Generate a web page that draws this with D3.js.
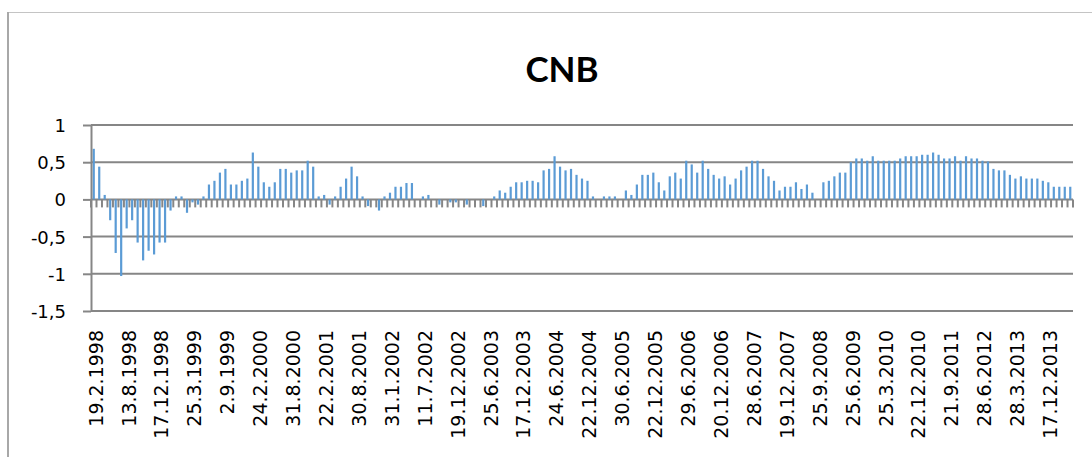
<!DOCTYPE html>

<head>
    <meta charset="utf-8">
    <title>CNB</title>
    <script type="text/javascript" src="https://d3js.org/d3.v7.min.js"></script>
    <style>
        body { margin: 0; background: #fff; }
        .lbl { font-family: "DejaVu Sans", sans-serif; }
        .title { font-family: Lato, "Open Sans", sans-serif; font-weight: bold; }
    </style>
</head>

<body>
    <div id="container"></div>
    <script>
        //------------------------1. DATA------------------------//
        // one value per CNB board meeting (179 categories), only every 6th labelled
        var values = [
            0.68, 0.44, 0.06, -0.28, -0.72, -1.03, -0.39, -0.28, -0.58, -0.82,
            -0.69, -0.74, -0.58, -0.58, -0.15, 0.04, 0.04, -0.18, -0.04, -0.07,
            0.04, 0.20, 0.25, 0.36, 0.41, 0.20, 0.20, 0.25, 0.28, 0.63,
            0.44, 0.23, 0.17, 0.23, 0.41, 0.41, 0.36, 0.39, 0.39, 0.52,
            0.44, 0.04, 0.06, -0.07, 0.04, 0.17, 0.28, 0.44, 0.31, 0.04,
            -0.09, 0, -0.15, 0.04, 0.09, 0.17, 0.17, 0.22, 0.22, 0,
            0.04, 0.06, 0, -0.07, 0, -0.04, -0.04, 0, -0.07, 0,
            0, -0.09, 0, 0.04, 0.12, 0.09, 0.17, 0.23, 0.23, 0.25,
            0.25, 0.23, 0.39, 0.41, 0.58, 0.44, 0.39, 0.41, 0.33, 0.28,
            0.25, 0.04, 0, 0.04, 0.04, 0.04, 0, 0.12, 0.06, 0.20,
            0.33, 0.33, 0.36, 0.23, 0.12, 0.31, 0.36, 0.28, 0.52, 0.47,
            0.36, 0.52, 0.41, 0.33, 0.28, 0.31, 0.20, 0.28, 0.39, 0.44,
            0.52, 0.52, 0.41, 0.31, 0.25, 0.12, 0.17, 0.17, 0.23, 0.14,
            0.20, 0.09, 0, 0.23, 0.25, 0.31, 0.36, 0.36, 0.50, 0.55,
            0.55, 0.52, 0.58, 0.52, 0.52, 0.52, 0.52, 0.55, 0.58, 0.58,
            0.58, 0.60, 0.60, 0.63, 0.60, 0.55, 0.55, 0.58, 0.52, 0.58,
            0.55, 0.55, 0.52, 0.51, 0.41, 0.39, 0.39, 0.33, 0.28, 0.31,
            0.28, 0.28, 0.28, 0.25, 0.23, 0.17, 0.17, 0.17, 0.17
        ];
        var tickLabels = [
            "19.2.1998", "13.8.1998", "17.12.1998", "25.3.1999", "2.9.1999",
            "24.2.2000", "31.8.2000", "22.2.2001", "30.8.2001", "31.1.2002",
            "11.7.2002", "19.12.2002", "25.6.2003", "17.12.2003", "24.6.2004",
            "22.12.2004", "30.6.2005", "22.12.2005", "29.6.2006", "20.12.2006",
            "28.6.2007", "19.12.2007", "25.9.2008", "25.6.2009", "25.3.2010",
            "22.12.2010", "21.9.2011", "28.6.2012", "28.3.2013", "17.12.2013"
        ];
        var labelEvery = 6;
        var yTicks = [-1.5, -1, -0.5, 0, 0.5, 1];
        var title = "CNB";

        //------------------------2. PREPARATION------------------------//
        var width = 1092, height = 457,
            plot = { left: 91, right: 1073, top: 125, bottom: 311 },
            grey = "#868686",
            barColor = "#5b9bd5";

        var categories = values.map(function (d, i) { return i; });

        var x = d3.scaleBand()
            .domain(categories)
            .range([plot.left, plot.right])
            .paddingInner(0.6)
            .paddingOuter(0.3);

        // category boundaries, where excel puts the tick marks
        var xb = d3.scaleLinear()
            .domain([0, categories.length])
            .range([plot.left, plot.right]);

        var y = d3.scaleLinear()
            .domain([-1.5, 1])
            .range([plot.bottom, plot.top]);

        function fmt(v) { return String(v).replace(".", ","); }

        //-----------------------------DRAW-----------------------------//
        var svg = d3.select("#container").append("svg")
            .attr("width", width).attr("height", height);

        // horizontal gridlines (the one at 0 doubles as the category axis)
        svg.append("g").selectAll("line")
            .data(yTicks)
            .enter().append("line")
            .attr("x1", plot.left).attr("x2", plot.right)
            .attr("y1", function (d) { return y(d); })
            .attr("y2", function (d) { return y(d); })
            .attr("stroke", grey).attr("stroke-width", 2);

        // chart frame
        svg.append("line")
            .attr("x1", 8).attr("x2", width).attr("y1", 12.5).attr("y2", 12.5)
            .attr("stroke", "#c4c4c4").attr("stroke-width", 1);
        svg.append("line")
            .attr("x1", 8).attr("x2", 8).attr("y1", 12).attr("y2", height)
            .attr("stroke", "#a8a8a8").attr("stroke-width", 2);

        svg.append("text")
            .attr("class", "title")
            .attr("x", 562).attr("y", 82)
            .attr("text-anchor", "middle")
            .attr("fill", "#000")
            .style("font-size", "35px")
            .text(title);

        // bars
        svg.append("g").selectAll("rect")
            .data(values)
            .enter().append("rect")
            .attr("x", function (d, i) { return x(i); })
            .attr("width", x.bandwidth())
            .attr("y", function (d) { return y(Math.max(0, d)); })
            .attr("height", function (d) { return Math.abs(y(d) - y(0)); })
            .attr("fill", barColor);

        // y axis
        var yaxis = d3.axisLeft(y)
            .tickValues(yTicks)
            .tickSize(8)
            .tickSizeOuter(0)
            .tickPadding(17)
            .tickFormat(fmt);
        var gy = svg.append("g")
            .attr("transform", "translate(" + plot.left + ",0)")
            .call(yaxis);
        gy.selectAll("line, path").attr("stroke", grey).attr("stroke-width", 2);
        gy.selectAll("text")
            .attr("class", "lbl")
            .attr("fill", "#000")
            .attr("dy", "0.36em")
            .style("font-size", "18px");

        // category tick marks hanging below zero
        svg.append("g").selectAll("line")
            .data(d3.range(categories.length + 1))
            .enter().append("line")
            .attr("x1", function (k) { return xb(k); })
            .attr("x2", function (k) { return xb(k); })
            .attr("y1", y(0)).attr("y2", y(0) + 8)
            .attr("stroke", grey).attr("stroke-width", 2);

        // category labels, every 6th meeting
        svg.append("g").selectAll("text")
            .data(tickLabels)
            .enter().append("text")
            .attr("class", "lbl")
            .attr("fill", "#000")
            .attr("text-anchor", "end")
            .attr("dy", "0.36em")
            .style("font-size", "19px")
            .attr("transform", function (d, i) {
                var cx = x(i * labelEvery) + x.bandwidth() / 2 + 2;
                return "translate(" + cx + ",330) rotate(-90)";
            })
            .text(function (d) { return d; });
    </script>
</body>
